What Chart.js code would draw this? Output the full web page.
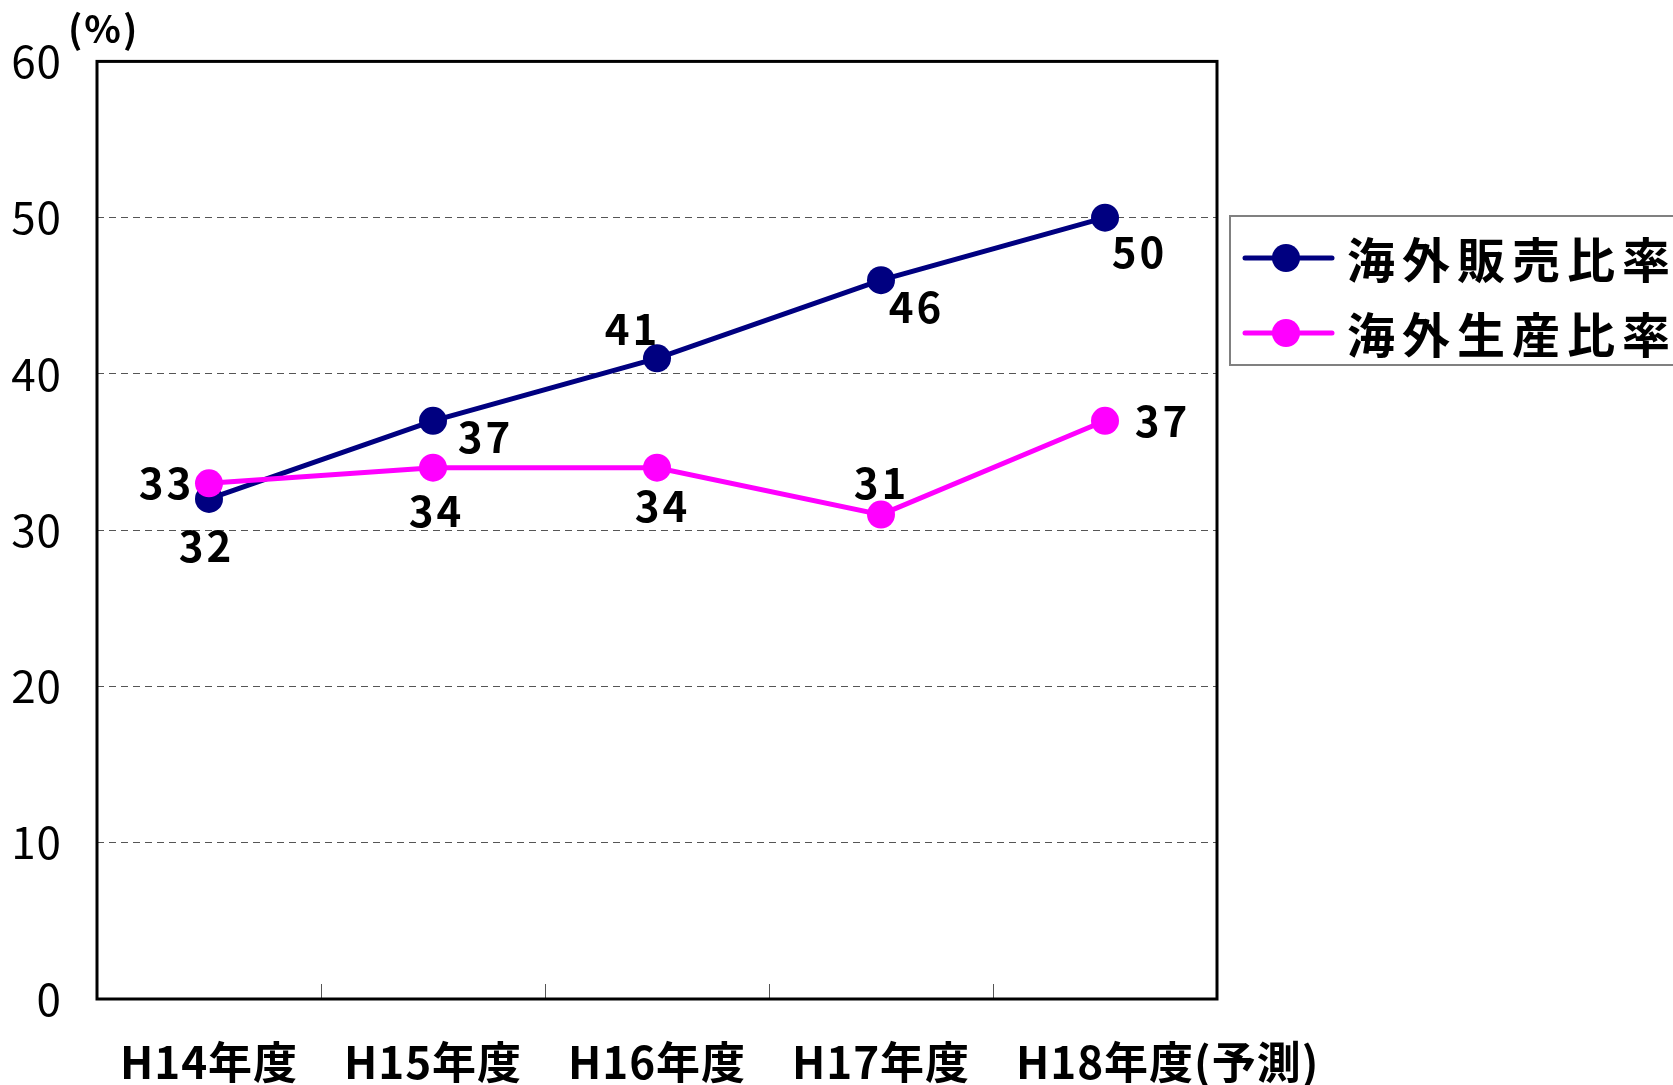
<!DOCTYPE html>
<html lang="ja">
<head>
<meta charset="utf-8">
<title>海外販売比率・海外生産比率</title>
<script src="https://cdn.jsdelivr.net/npm/chart.js@4.4.1/dist/chart.umd.min.js"></script>
<style>
  html, body { margin: 0; padding: 0; background: #fff; }
  #wrap { width: 1673px; height: 1085px; }
</style>
</head>
<body>
<div id="wrap"><canvas id="chart" width="1673" height="1085"></canvas></div>
<script>
// Data
const categories = ['H14年度', 'H15年度', 'H16年度', 'H17年度', 'H18年度(予測)'];
const salesRatio = [32, 37, 41, 46, 50];
const productionRatio = [33, 34, 34, 31, 37];
const yTicks = [0, 10, 20, 30, 40, 50, 60];
const seriesNames = ['海外販売比率', '海外生産比率'];
const unitLabel = '(%)';

// Where each value label sits relative to its point (px)
const salesLabelOffsets = [[-4, 47], [51, 16], [-26, -29], [34, 27], [33, 34]];
const productionLabelOffsets = [[-44, 0], [2, 43], [4, 38], [-1, -32], [56, 0]];

const NAVY = '#000080';
const MAGENTA = '#ff00ff';
const FONT = "'Noto Sans CJK JP', 'Noto Sans', sans-serif";

// Frame around plot + short separators at category boundaries
const plotFrame = {
    id: 'plotFrame',
    beforeDraw(chart) {
        chart.ctx.letterSpacing = '1px';
    },
    beforeDatasetsDraw(chart) {
        const { ctx, chartArea: a, scales: { x } } = chart;
        ctx.save();
        ctx.strokeStyle = '#555';
        ctx.lineWidth = 1;
        for (let i = 1; i < categories.length; i++) {
            const px = Math.round((x.getPixelForValue(i - 1) + x.getPixelForValue(i)) / 2) + 0.5;
            ctx.beginPath();
            ctx.moveTo(px, a.bottom);
            ctx.lineTo(px, a.bottom - 15);
            ctx.stroke();
        }
        ctx.strokeStyle = '#000';
        ctx.lineWidth = 3;
        ctx.strokeRect(a.left, a.top, a.right - a.left, a.bottom - a.top);
        ctx.restore();
    }
};

// Category labels: the "年度" part is centred, a "(予測)" note hangs to the right
const categoryLabels = {
    id: 'categoryLabels',
    afterDraw(chart) {
        const { ctx, chartArea: a, scales: { x } } = chart;
        ctx.save();
        ctx.font = `bold 44px ${FONT}`;
        ctx.letterSpacing = '1px';
        ctx.fillStyle = '#000';
        ctx.textAlign = 'left';
        ctx.textBaseline = 'middle';
        categories.forEach((label, i) => {
            const base = label.split('(')[0];
            const w = ctx.measureText(base).width;
            ctx.fillText(label, x.getPixelForValue(i) - w / 2, a.bottom + 63);
        });
        ctx.restore();
    }
};

// Value labels next to the points
const valueLabels = {
    id: 'valueLabels',
    afterDatasetsDraw(chart) {
        const ctx = chart.ctx;
        const offsets = [salesLabelOffsets, productionLabelOffsets];
        ctx.save();
        ctx.font = `bold 42px ${FONT}`;
        ctx.letterSpacing = '3px';
        ctx.fillStyle = '#000';
        ctx.textAlign = 'center';
        ctx.textBaseline = 'middle';
        chart.data.datasets.forEach((ds, di) => {
            const meta = chart.getDatasetMeta(di);
            meta.data.forEach((pt, i) => {
                const [dx, dy] = offsets[di][i];
                ctx.fillText(String(ds.data[i]), pt.x + dx + 1.5, pt.y + dy);
            });
        });
        ctx.restore();
    }
};

// Boxed legend on the right and the unit label
const boxLegend = {
    id: 'boxLegend',
    afterDraw(chart) {
        const { ctx, chartArea: a } = chart;
        ctx.save();

        // unit
        ctx.letterSpacing = '2px';
        ctx.font = `bold 38px ${FONT}`;
        ctx.fillStyle = '#000';
        ctx.textAlign = 'left';
        ctx.textBaseline = 'middle';
        ctx.fillText(unitLabel, 68, 29);

        // legend box
        const left = a.right + 13, top = 216;
        ctx.strokeStyle = '#808080';
        ctx.lineWidth = 2;
        ctx.strokeRect(left, top, chart.width - left + 5, 149);

        const rows = [258, 333];
        chart.data.datasets.forEach((ds, i) => {
            const y = rows[i];
            ctx.strokeStyle = ds.borderColor;
            ctx.lineWidth = 5;
            ctx.lineCap = 'round';
            ctx.beginPath();
            ctx.moveTo(left + 15, y);
            ctx.lineTo(left + 102, y);
            ctx.stroke();
            ctx.fillStyle = ds.backgroundColor;
            ctx.beginPath();
            ctx.arc(left + 56, y, 14, 0, Math.PI * 2);
            ctx.fill();

            ctx.fillStyle = '#000';
            ctx.font = `bold 48px ${FONT}`;
            ctx.letterSpacing = '7px';
            ctx.textAlign = 'left';
            ctx.textBaseline = 'middle';
            ctx.fillText(ds.label, left + 117, y + 2);
        });
        ctx.restore();
    }
};

const chart = new Chart(document.getElementById('chart'), {
    type: 'line',
    data: {
        labels: categories,
        datasets: [
            {
                label: seriesNames[0],
                data: salesRatio,
                borderColor: NAVY,
                backgroundColor: NAVY,
                borderWidth: 5,
                pointRadius: 14,
                pointHoverRadius: 14,
                pointBorderWidth: 0,
                tension: 0,
                order: 1
            },
            {
                label: seriesNames[1],
                data: productionRatio,
                borderColor: MAGENTA,
                backgroundColor: MAGENTA,
                borderWidth: 5,
                pointRadius: 14,
                pointHoverRadius: 14,
                pointBorderWidth: 0,
                tension: 0,
                order: 0
            }
        ]
    },
    options: {
        responsive: false,
        animation: false,
        layout: {
            padding: { top: 60, right: 456, left: 0, bottom: 0 }
        },
        plugins: {
            legend: { display: false },
            tooltip: { enabled: false },
            title: { display: false }
        },
        scales: {
            x: {
                offset: true,
                grid: { display: false, drawTicks: false },
                border: { display: false },
                ticks: { display: false },
                afterFit(scale) { scale.height = 86; }
            },
            y: {
                min: 0,
                max: 60,
                grid: {
                    drawTicks: false,
                    lineWidth: 1,
                    color: ctx => (ctx.tick.value === 0 || ctx.tick.value === 60) ? 'rgba(0,0,0,0)' : '#555'
                },
                border: { display: false, dash: [7, 5] },
                ticks: {
                    color: '#000',
                    padding: 35,
                    font: { family: FONT, size: 44 }
                },
                afterBuildTicks(scale) {
                    scale.ticks = yTicks.map(v => ({ value: v }));
                },
                afterFit(scale) { scale.width = 97; }
            }
        }
    },
    plugins: [plotFrame, categoryLabels, valueLabels, boxLegend]
});
</script>
</body>
</html>
